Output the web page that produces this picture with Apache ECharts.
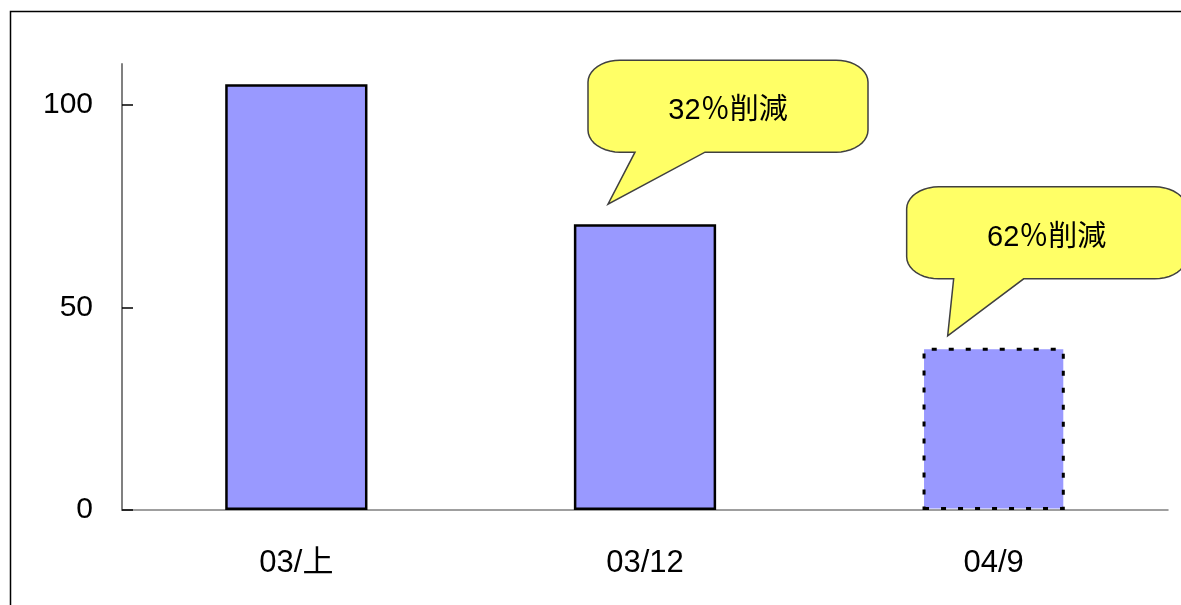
<!DOCTYPE html>
<html>
<head>
<meta charset="utf-8">
<script src="https://cdn.jsdelivr.net/npm/echarts@6/dist/echarts.min.js"></script>
<style>
  html, body { margin: 0; padding: 0; background: #fff; }
  #chart { width: 1181px; height: 605px; }
</style>
</head>
<body>
<div id="chart"></div>
<script>
const categories = ['03/上', '03/12', '04/9']
const values = [105, 70.5, 40]
const yTicks = [0, 50, 100]
const calloutTexts = ['32％削減', '62％削減']
const calloutBars = [1, 2]

const FONT = '"Liberation Sans", "Noto Sans CJK JP", sans-serif'

// bubble layout, in pixels relative to the bar top it points at
const calloutLayout = [
  { tipX: -37, tipY: -20, left: -20, top: -144, bottom: -52, tailL: 27, tailR: 97 },
  { tipX: -46, tipY: -12, left: -41, top: -149, bottom: -57, tailL: 6, tailR: 76 }
]
const BUBBLE_W = 280

const chart = echarts.init(document.getElementById('chart'))

chart.setOption({
  backgroundColor: '#fff',
  animation: false,
  grid: { left: 122, right: 13, top: 64, bottom: 95 },
  xAxis: {
    type: 'category',
    data: categories,
    boundaryGap: true,
    axisLine: { lineStyle: { color: '#808080', width: 1.5 } },
    axisTick: { inside: true, length: 12, lineStyle: { color: '#333', width: 1.5 } },
    axisLabel: { margin: 38, fontSize: 31, color: '#000', fontFamily: FONT }
  },
  yAxis: {
    type: 'value',
    min: 0,
    max: 110,
    interval: 50,
    splitLine: { show: false },
    axisLine: { show: true, lineStyle: { color: '#808080', width: 2 } },
    axisTick: {
      show: true,
      inside: true,
      length: 11,
      customValues: yTicks,
      lineStyle: { color: '#000', width: 1.5 }
    },
    axisLabel: {
      margin: 29,
      fontSize: 30,
      color: '#000',
      fontFamily: FONT,
      customValues: yTicks
    }
  },
  series: [{
    type: 'bar',
    barWidth: '40.8%',
    data: values.map((v, i) => ({
      value: v,
      itemStyle: i === 2
        ? { color: '#9999FF', borderColor: '#000', borderWidth: 3, borderType: [5, 12] }
        : { color: '#9999FF', borderColor: '#000', borderWidth: 2.5 }
    }))
  }]
})

// outline of a rounded box with a wedge tail on its bottom edge
function bubblePoints(x0, y0, x1, y1, tip, tl, tr) {
  const rx = 32
  const ry = 22
  const pts = []
  function corner(cx, cy, a0, a1) {
    for (let s = 0; s <= 10; s++) {
      const a = a0 + (a1 - a0) * s / 10
      pts.push([cx + rx * Math.cos(a), cy + ry * Math.sin(a)])
    }
  }
  corner(x1 - rx, y0 + ry, -Math.PI / 2, 0)
  corner(x1 - rx, y1 - ry, 0, Math.PI / 2)
  pts.push([tr, y1], [tip[0], tip[1]], [tl, y1])
  corner(x0 + rx, y1 - ry, Math.PI / 2, Math.PI)
  corner(x0 + rx, y0 + ry, Math.PI, Math.PI * 1.5)
  return pts
}

const graphics = [{
  type: 'rect',
  silent: true,
  shape: { x: 10.5, y: 11.5, width: 1300, height: 800 },
  style: { fill: 'none', stroke: '#000', lineWidth: 1.5 }
}]

calloutTexts.forEach((text, k) => {
  const idx = calloutBars[k]
  const lay = calloutLayout[k]
  const top = chart.convertToPixel({ seriesIndex: 0 }, [categories[idx], values[idx]])
  const tip = [top[0] + lay.tipX, top[1] + lay.tipY]
  const x0 = tip[0] + lay.left
  const x1 = x0 + BUBBLE_W
  const y0 = tip[1] + lay.top
  const y1 = tip[1] + lay.bottom
  graphics.push({
    type: 'polygon',
    silent: true,
    shape: { points: bubblePoints(x0, y0, x1, y1, tip, tip[0] + lay.tailL, tip[0] + lay.tailR) },
    style: { fill: '#FFFF66', stroke: '#404040', lineWidth: 1.5 }
  })
  graphics.push({
    type: 'text',
    silent: true,
    x: (x0 + x1) / 2,
    y: (y0 + y1) / 2 + 5,
    style: {
      text: text,
      fill: '#000',
      fontSize: 29,
      fontFamily: FONT,
      align: 'center',
      verticalAlign: 'middle'
    }
  })
})

chart.setOption({ graphic: graphics })
</script>
</body>
</html>
